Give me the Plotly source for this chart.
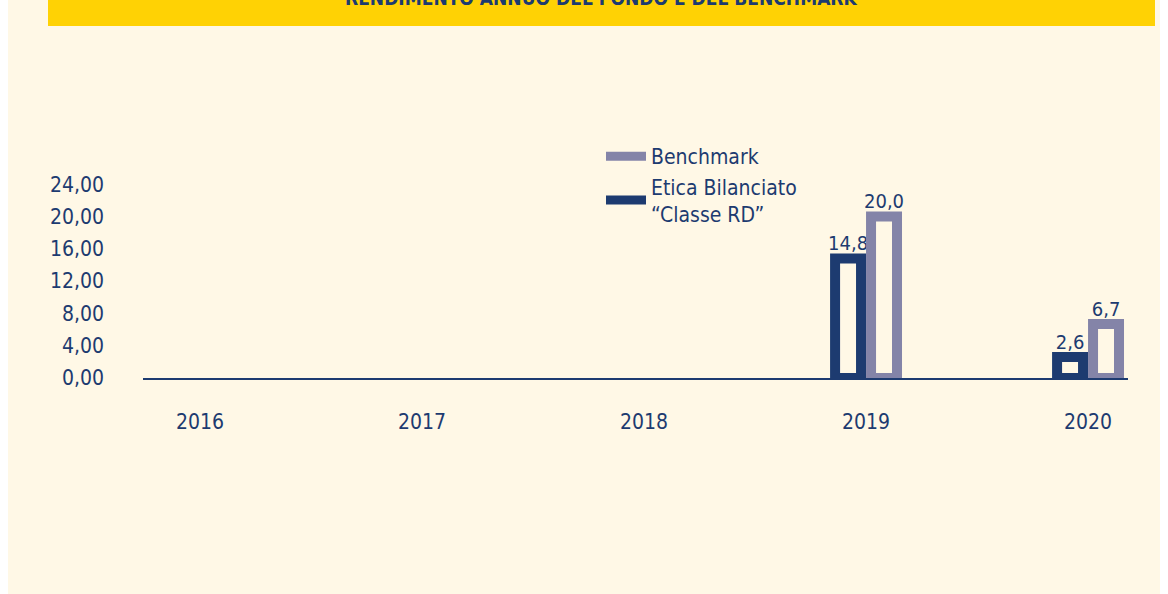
import plotly.graph_objects as go

years = ["2016", "2017", "2018", "2019", "2020"]
etica = [None, None, None, 14.8, 2.6]
benchmark = [None, None, None, 20.0, 6.7]
y_ticks = [0, 4, 8, 12, 16, 20, 24]
name_etica = "Etica Bilanciato<br>“Classe RD”"
name_bench = "Benchmark"
title_text = "RENDIMENTO ANNUO DEL FONDO E DEL BENCHMARK"

NAVY = "#1d3b70"
BENCH = "#8484a8"
CREAM = "#fff8e6"
YELLOW = "#ffd204"
FONT = "Liberation Sans Narrow, DejaVu Sans Condensed, Roboto, sans-serif"

OX = 8  # page offset of the figure (body left margin)
W, H = 1160, 594
L, R, T, B = 135, 40, 168, 216
pw, ph = W - L - R, H - T - B

def px_x(p):
    return (p - OX - L) / pw

def px_y(p):
    return 1 + (T - p) / ph

fig = go.Figure()
fig.add_trace(go.Bar(x=years, y=etica, marker=dict(color=CREAM, line=dict(color=NAVY, width=10)),
                     texttemplate="%{y:.1f}", textposition="outside", cliponaxis=False,
                     constraintext="none",
                     textfont=dict(color=NAVY, size=20, family=FONT), showlegend=False))
fig.add_trace(go.Bar(x=years, y=benchmark, marker=dict(color=CREAM, line=dict(color=BENCH, width=10)),
                     texttemplate="%{y:.1f}", textposition="outside", cliponaxis=False,
                     constraintext="none",
                     textfont=dict(color=NAVY, size=20, family=FONT), showlegend=False))
fig.add_trace(go.Scatter(x=[None], y=[None], mode="lines", line=dict(color=BENCH, width=9), name=name_bench))
fig.add_trace(go.Scatter(x=[None], y=[None], mode="lines", line=dict(color=NAVY, width=9), name=name_etica))

fig.update_layout(
    width=W, height=H,
    margin=dict(l=L, r=R, t=T, b=B),
    paper_bgcolor=CREAM, plot_bgcolor=CREAM,
    barmode="group", bargap=0.676, bargroupgap=0.278,
    separators=",.",
    font=dict(family=FONT, color=NAVY, size=21),
    legend=dict(x=px_x(601), y=px_y(136), xanchor="left", yanchor="top", itemwidth=40,
                bgcolor="rgba(0,0,0,0)", font=dict(size=21, color=NAVY, family=FONT),
                traceorder="normal"),
    xaxis=dict(type="category", range=[-0.257, 4.18], showline=True, linecolor=NAVY, linewidth=1.5,
               showgrid=False, zeroline=False, ticks="", ticklabelstandoff=24,
               tickfont=dict(size=21, color=NAVY, family=FONT), fixedrange=True),
    yaxis=dict(range=[0, 26], tickvals=y_ticks, tickformat=".2f", showgrid=False, zeroline=False,
               showline=False, ticks="", ticklabelstandoff=38,
               tickfont=dict(size=21, color=NAVY, family=FONT), fixedrange=True),
    shapes=[
        dict(type="rect", xref="paper", yref="paper", x0=px_x(48), x1=px_x(1155), y0=px_y(26), y1=px_y(-5),
             fillcolor=YELLOW, line=dict(width=0), layer="below"),
    ],
    annotations=[
        dict(text="<b>" + title_text + "</b>", xref="paper", yref="paper", x=px_x(601), y=px_y(11),
             xanchor="center", yanchor="bottom", showarrow=False,
             font=dict(size=19, color=NAVY, family=FONT)),
    ],
)

fig.write_html("out.html", post_script="document.body.style.marginTop='0px';document.body.style.marginBottom='0px';")
